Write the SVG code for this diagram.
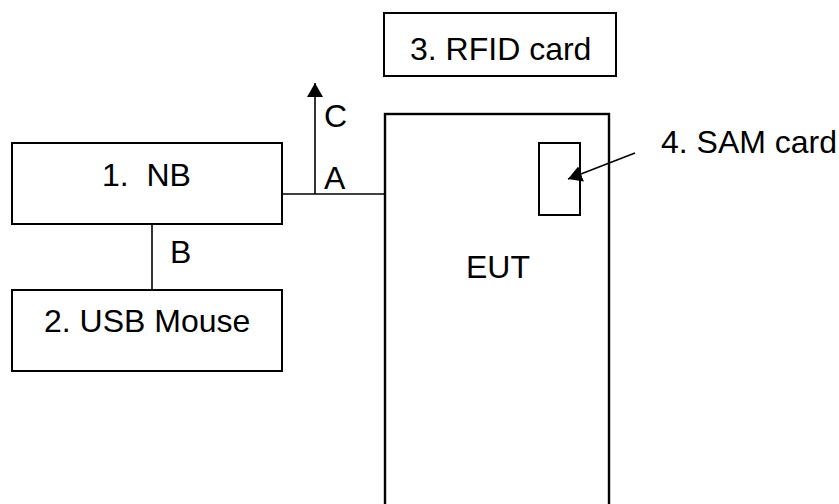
<svg xmlns="http://www.w3.org/2000/svg" width="839" height="504" viewBox="0 0 839 504">
<style>
.box{fill:#fff;stroke:#000;stroke-width:2}
.ln{fill:none;stroke:#000;stroke-width:1.6}
text{font-family:"Liberation Sans",Arial,sans-serif;font-size:32px;fill:#000}
</style>
<defs>
<marker id="ah" markerUnits="userSpaceOnUse" markerWidth="15" markerHeight="16" refX="14" refY="8" orient="auto" viewBox="0 0 15 16">
<path d="M0,0 L14,8 L0,16 z" fill="#000"/>
</marker>
</defs>
<rect width="839" height="504" fill="#fff"/>
<g id="nb">
<rect class="box" x="12" y="143" width="270" height="81"/>
<text x="102" y="186" xml:space="preserve">1.  NB</text>
</g>
<g id="mouse">
<rect class="box" x="12" y="290" width="270" height="81"/>
<text x="44" y="332">2. USB Mouse</text>
</g>
<g id="rfid">
<rect class="box" x="384" y="13" width="232" height="63"/>
<text x="410" y="60">3. RFID card</text>
</g>
<g id="eut">
<rect class="box" x="385" y="114" width="224" height="400" style="stroke-width:2.4"/>
<text x="466" y="278">EUT</text>
</g>
<g id="sam">
<rect class="box" x="539" y="143" width="41" height="72"/>
<text x="661" y="153">4. SAM card</text>
</g>
<g id="connectors">
<line class="ln" x1="282" y1="194" x2="385" y2="194"/>
<line class="ln" x1="315" y1="194" x2="315" y2="83" marker-end="url(#ah)"/>
<line class="ln" x1="152" y1="224" x2="152" y2="290"/>
<line class="ln" x1="635" y1="153" x2="568" y2="179" marker-end="url(#ah)"/>
<text x="324" y="127">C</text>
<text x="324" y="189">A</text>
<text x="170" y="263">B</text>
</g>
</svg>
